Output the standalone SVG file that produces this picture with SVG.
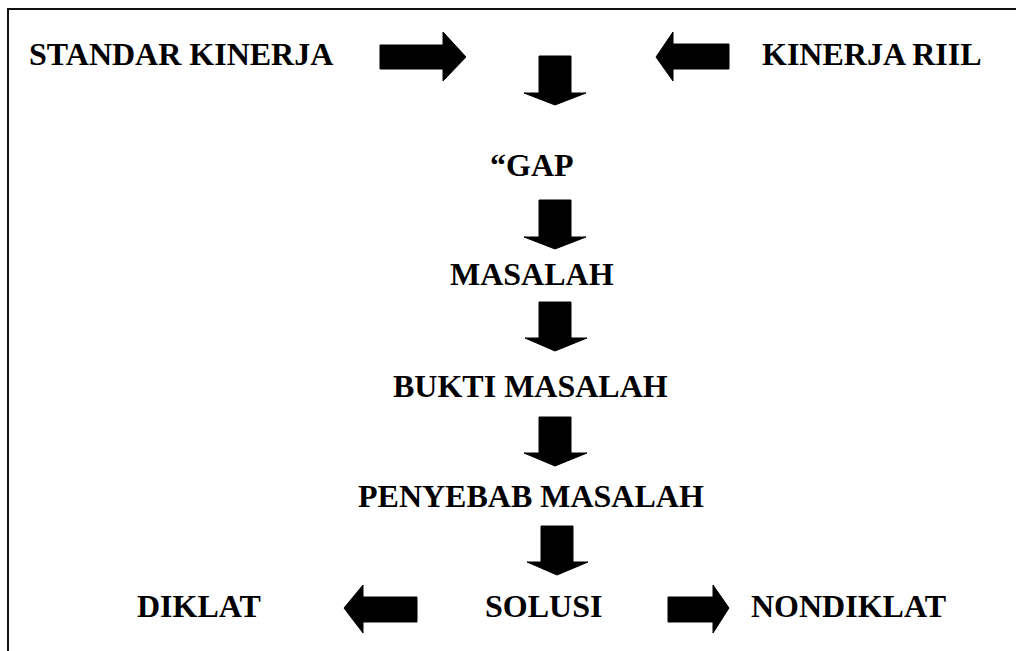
<svg xmlns="http://www.w3.org/2000/svg" width="1016" height="651" viewBox="0 0 1016 651">
<style>
text{font-family:'Liberation Serif','Times New Roman',Times,serif;font-weight:700;font-size:32px;fill:#000}
.a{fill:#000;stroke:#000;stroke-width:1;stroke-linejoin:miter}
.b{stroke:#111;stroke-width:2;fill:none}
</style>
<rect width="1016" height="651" fill="#fff"/>
<g id="frame"><path class="b" d="M8 651 V9 H1016"/></g>
<g id="n-standar"><text x="29" y="65">STANDAR KINERJA</text></g>
<g id="n-riil"><text x="762" y="65">KINERJA RIIL</text></g>
<g id="n-gap"><text x="490" y="176">“GAP</text></g>
<g id="n-masalah"><text x="450" y="285">MASALAH</text></g>
<g id="n-bukti"><text x="393" y="397">BUKTI MASALAH</text></g>
<g id="n-penyebab"><text x="358" y="507">PENYEBAB MASALAH</text></g>
<g id="n-solusi"><text x="485" y="617">SOLUSI</text></g>
<g id="n-diklat"><text x="137" y="617">DIKLAT</text></g>
<g id="n-nondiklat"><text x="751" y="617">NONDIKLAT</text></g>
<g id="connectors">
<path class="a" d="M380 45 H443 V32 L466 57 L443 81 V69 H380 Z"/>
<path class="a" d="M729 44 H673 V32 L656 57 L673 81 V69 H729 Z"/>
<path class="a" d="M539 56 H571 V93 H586 L555 105 L524 93 H539 Z"/>
<path class="a" d="M539 200 H571 V237 H586 L555 249 L524 237 H539 Z"/>
<path class="a" d="M539 302 H571 V338 H587 L555 351 L525 338 H539 Z"/>
<path class="a" d="M539 417 H571 V453 H587 L555 466 L524 453 H539 Z"/>
<path class="a" d="M541 526 H573 V562 H588 L557 575 L527 562 H541 Z"/>
<path class="a" d="M417 597 H363 V585 L344 608 L363 633 V622 H417 Z"/>
<path class="a" d="M668 597 H713 V585 L729 608 L713 633 V622 H668 Z"/>
</g>
</svg>
